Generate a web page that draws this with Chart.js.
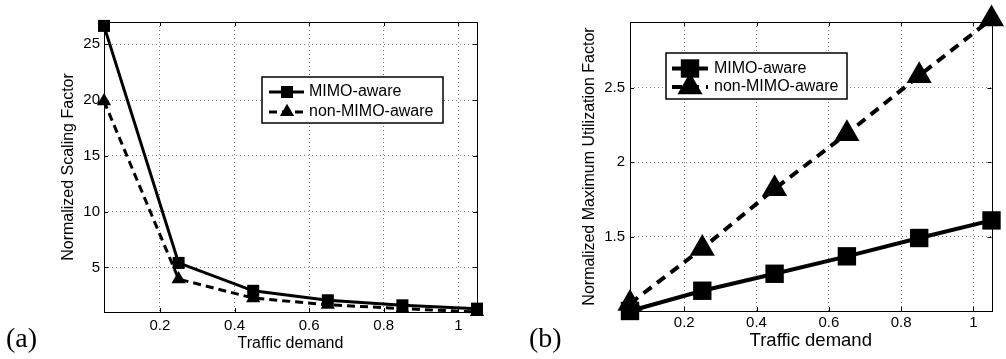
<!DOCTYPE html>
<html>
<head>
<meta charset="utf-8">
<script src="https://cdn.jsdelivr.net/npm/chart.js@4.4.1/dist/chart.umd.min.js"></script>
<style>
  body { margin: 0; background: #fff; }
  #wrap { position: relative; width: 1006px; height: 359px; overflow: hidden; }
  canvas { position: absolute; top: 0; }
  .tag { position: absolute; font-family: "Liberation Serif", "DejaVu Serif", serif; font-size: 28px; color: #000; line-height: 1; }
</style>
</head>
<body>
<div id="wrap">
  <canvas id="chartA" width="500" height="359" style="left:0"></canvas>
  <canvas id="chartB" width="506" height="359" style="left:500px"></canvas>
  <div class="tag" style="left:6px; top:324px">(a)</div>
  <div class="tag" style="left:529px; top:324px">(b)</div>
</div>
<script>
    // values
    var demand = [0.05, 0.25, 0.45, 0.65, 0.85, 1.05];
    var scalingMimo = [26.65, 5.4, 2.9, 2.05, 1.6, 1.3];
    var scalingNonMimo = [19.9, 3.95, 2.25, 1.65, 1.3, 1.0];
    var utilMimo = [1.0, 1.136, 1.25, 1.367, 1.49, 1.608];
    var utilNonMimo = [1.05, 1.42, 1.82, 2.19, 2.58, 2.96];
    var demandTicks = [0.2, 0.4, 0.6, 0.8, 1];
    var scalingTicks = [5, 10, 15, 20, 25];
    var utilTicks = [1.5, 2, 2.5];
    var seriesNames = ['MIMO-aware', 'non-MIMO-aware'];

    var FONT = '"Liberation Sans", Arial, Helvetica, sans-serif';

    var toPoints = function(xs, ys) {
        return xs.map(function(x, i) { return {x: x, y: ys[i]}; });
    };

    var drawMarker = function(ctx, style, r, x, y) {
        ctx.beginPath();
        if (style === 'rect') {
            var s = Math.SQRT1_2 * r;
            ctx.rect(x - s, y - s, 2 * s, 2 * s);
        } else {
            ctx.moveTo(x, y - r);
            ctx.lineTo(x + Math.sin(2 * Math.PI / 3) * r, y + r / 2);
            ctx.lineTo(x - Math.sin(2 * Math.PI / 3) * r, y + r / 2);
            ctx.closePath();
        }
        ctx.fill();
    };

    // axes box and inward tick marks, like the original plots
    var framePlugin = {
        id: 'frame',
        beforeDatasetsDraw: function(chart) {
            var a = chart.chartArea, ctx = chart.ctx;
            var sx = chart.scales.x, sy = chart.scales.y;
            ctx.save();
            ctx.strokeStyle = '#000';
            ctx.lineWidth = 1;
            ctx.strokeRect(Math.round(a.left) + 0.5, Math.round(a.top) + 0.5,
                Math.round(a.right - a.left), Math.round(a.bottom - a.top));
            ctx.beginPath();
            sx.ticks.forEach(function(t) {
                var px = Math.round(sx.getPixelForValue(t.value)) + 0.5;
                ctx.moveTo(px, a.bottom); ctx.lineTo(px, a.bottom - 4);
                ctx.moveTo(px, a.top); ctx.lineTo(px, a.top + 4);
            });
            sy.ticks.forEach(function(t) {
                var py = Math.round(sy.getPixelForValue(t.value)) + 0.5;
                ctx.moveTo(a.left, py); ctx.lineTo(a.left + 4, py);
                ctx.moveTo(a.right, py); ctx.lineTo(a.right - 4, py);
            });
            ctx.stroke();
            ctx.restore();
        }
    };

    var legendPlugin = function(box) {
        return {
            id: 'boxLegend',
            afterDraw: function(chart) {
                var ctx = chart.ctx;
                ctx.save();
                ctx.fillStyle = '#fff';
                ctx.fillRect(box.x, box.y, box.w, box.h);
                ctx.strokeStyle = '#000';
                ctx.lineWidth = 1.5;
                ctx.strokeRect(box.x, box.y, box.w, box.h);
                chart.data.datasets.forEach(function(ds, i) {
                    var y = box.rows[i];
                    ctx.strokeStyle = '#000';
                    ctx.fillStyle = '#000';
                    ctx.lineWidth = ds.borderWidth;
                    ctx.setLineDash(ds.borderDash || []);
                    ctx.beginPath();
                    ctx.moveTo(box.lineFrom, y);
                    ctx.lineTo(box.lineTo, y);
                    ctx.stroke();
                    ctx.setLineDash([]);
                    drawMarker(ctx, ds.pointStyle, ds.pointRadius, box.marker, y);
                    ctx.font = box.fontSize + 'px ' + FONT;
                    ctx.textBaseline = 'middle';
                    ctx.textAlign = 'left';
                    ctx.fillText(ds.label, box.textX, y);
                });
                ctx.restore();
            }
        };
    };

    var makeChart = function(id, o) {
        var ctx = document.getElementById(id).getContext('2d');
        return new Chart(ctx, {
            type: 'line',
            data: {
                datasets: [
                    {
                        label: seriesNames[0],
                        data: toPoints(demand, o.mimo),
                        borderColor: '#000',
                        backgroundColor: '#000',
                        borderWidth: o.lineWidth,
                        pointStyle: 'rect',
                        pointRadius: o.rectRadius,
                        pointBorderWidth: 0,
                        pointBackgroundColor: '#000',
                        tension: 0,
                        clip: false
                    },
                    {
                        label: seriesNames[1],
                        data: toPoints(demand, o.nonMimo),
                        borderColor: '#000',
                        backgroundColor: '#000',
                        borderWidth: o.lineWidth,
                        borderDash: o.dash,
                        pointStyle: 'triangle',
                        pointRadius: o.triRadius,
                        pointBorderWidth: 0,
                        pointBackgroundColor: '#000',
                        tension: 0,
                        clip: false
                    }
                ]
            },
            options: {
                responsive: false,
                animation: false,
                events: [],
                layout: { padding: { left: 0, right: o.padRight, top: o.padTop, bottom: 0 } },
                plugins: { legend: { display: false }, tooltip: { enabled: false } },
                scales: {
                    x: {
                        type: 'linear',
                        min: 0.05,
                        max: 1.05,
                        afterBuildTicks: function(s) { s.ticks = demandTicks.map(function(v) { return {value: v}; }); },
                        afterFit: function(s) { s.height = o.xHeight; },
                        grid: { color: '#777', lineWidth: 1, drawTicks: false },
                        border: { display: false, dash: [1, 3] },
                        ticks: {
                            color: '#000', padding: o.xTickPad,
                            font: { family: FONT, size: 15 },
                            callback: function(v) { return String(v); }
                        },
                        title: {
                            display: true, text: 'Traffic demand', color: '#000',
                            font: { family: FONT, size: o.xTitleSize },
                            padding: { top: 0, bottom: o.xTitlePad }
                        }
                    },
                    y: {
                        type: 'linear',
                        min: o.yMin,
                        max: o.yMax,
                        afterBuildTicks: function(s) { s.ticks = o.yTicks.map(function(v) { return {value: v}; }); },
                        afterFit: function(s) { s.width = o.yWidth; },
                        grid: { color: '#777', lineWidth: 1, drawTicks: false },
                        border: { display: false, dash: [1, 3] },
                        ticks: {
                            color: '#000', padding: o.yTickPad,
                            font: { family: FONT, size: 15 },
                            callback: function(v) { return String(v); }
                        },
                        title: {
                            display: true, text: o.yTitle, color: '#000',
                            font: { family: FONT, size: 16 },
                            padding: { top: o.yTitlePad, bottom: 0 }
                        }
                    }
                }
            },
            plugins: [framePlugin, legendPlugin(o.legend)]
        });
    };

    window.onload = function() {
        makeChart('chartA', {
            mimo: scalingMimo, nonMimo: scalingNonMimo,
            yMin: 1, yMax: 27, yTicks: scalingTicks,
            yTitle: 'Normalized Scaling Factor',
            lineWidth: 3, dash: [8, 5], rectRadius: 8.5, triRadius: 8.2,
            padRight: 23, padTop: 22, xHeight: 47, yWidth: 104,
            xTickPad: 5, yTickPad: 4, xTitleSize: 16, xTitlePad: 6, yTitlePad: 59,
            legend: { x: 262, y: 77, w: 181, h: 46, rows: [92, 112],
                      lineFrom: 269, lineTo: 304, marker: 287, textX: 309, fontSize: 16 }
        });
        makeChart('chartB', {
            mimo: utilMimo, nonMimo: utilNonMimo,
            yMin: 1, yMax: 2.94, yTicks: utilTicks,
            yTitle: 'Normalized Maximum Utilization Factor',
            lineWidth: 4, dash: [10, 7], rectRadius: 13, triRadius: 14.5,
            padRight: 5, padTop: 22, xHeight: 48, yWidth: 130,
            xTickPad: 3, yTickPad: 5, xTitleSize: 18.5, xTitlePad: 7, yTitlePad: 80,
            legend: { x: 166, y: 53, w: 181, h: 46, rows: [68.5, 87],
                      lineFrom: 172, lineTo: 208, marker: 190, textX: 214, fontSize: 16 }
        });
    };
</script>
</body>
</html>
